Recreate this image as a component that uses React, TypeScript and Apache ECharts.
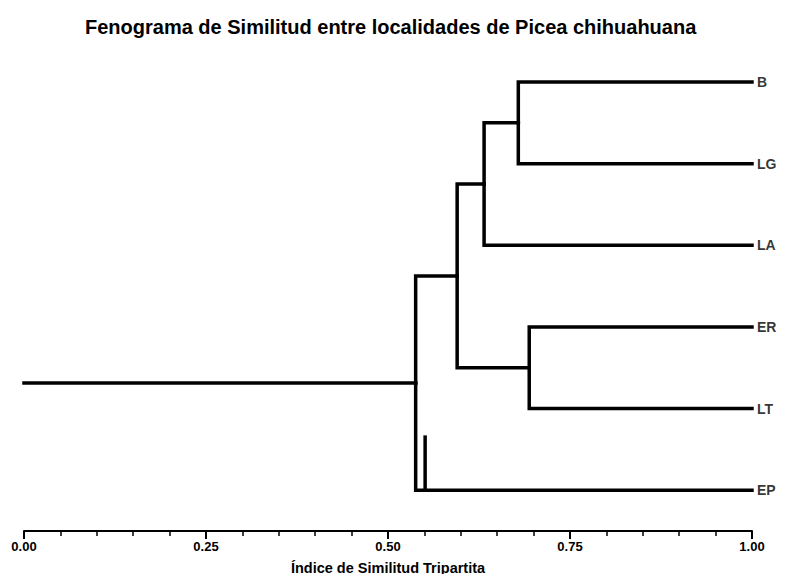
import React, { useEffect, useRef } from "react";
import * as echarts from "echarts";

const title = "Fenograma de Similitud entre localidades de Picea chihuahuana";
const axisName = "Índice de Similitud Tripartita";
const leaves = ["B", "LG", "LA", "ER", "LT", "EP"];
// node indices: 0-5 leaves, 6.. merges in order
const mergeChildren: [number, number][] = [
  [0, 1],
  [6, 2],
  [3, 4],
  [7, 8],
  [9, 5],
];
const mergeSimilarity = [0.679, 0.632, 0.694, 0.595, 0.538];
// small stray vertical stroke near EP in the original figure
const strayStroke = [0.551, 4.35, 0.551, 5];

function buildSegments() {
  const nx: number[] = leaves.map(() => 1);
  const ny: number[] = leaves.map((_, i) => i);
  const segs: number[][] = [];
  mergeChildren.forEach(([a, b], k) => {
    const h = mergeSimilarity[k];
    const py = (ny[a] + ny[b]) / 2;
    [a, b].forEach((c) => {
      segs.push([nx[c], ny[c], h, ny[c], h, py]);
    });
    nx.push(h);
    ny.push(py);
  });
  const r = nx.length - 1;
  segs.push([nx[r], ny[r], 0, ny[r], 0, ny[r]]);
  segs.push([strayStroke[0], strayStroke[1], strayStroke[2], strayStroke[3], strayStroke[2], strayStroke[3]]);
  return segs;
}

export default function App() {
  const ref = useRef<HTMLDivElement>(null);
  useEffect(() => {
    const chart = echarts.init(ref.current!, null, { renderer: "svg" });
    const segs = buildSegments();
    const font = "Liberation Sans, Arial, sans-serif";
    chart.setOption({
      animation: false,
      backgroundColor: "#fff",
      title: {
        text: title,
        left: 80,
        top: 12,
        textStyle: { fontSize: 20, fontWeight: "bold", fontFamily: font, color: "#000" },
      },
      grid: { left: 24, right: 40, top: 82, bottom: 43, outerBoundsMode: "none", containLabel: false },
      xAxis: {
        type: "value",
        min: 0,
        max: 1,
        interval: 0.25,
        position: "bottom",
        name: axisName,
        nameLocation: "middle",
        nameGap: 29,
        nameTextStyle: { fontSize: 14.5, fontWeight: "bold", fontFamily: font, color: "#000" },
        axisLine: { onZero: false, lineStyle: { color: "#000", width: 2 } },
        axisTick: { show: true, inside: false, length: 8, lineStyle: { color: "#000", width: 2 } },
        minorTick: { show: true, splitNumber: 5, length: 5, lineStyle: { color: "#000", width: 1.5 } },
        splitLine: { show: false },
        minorSplitLine: { show: false },
        axisLabel: {
          margin: 9,
          fontSize: 13,
          fontWeight: "bold",
          fontFamily: font,
          color: "#000",
          formatter: (v: number) => v.toFixed(2),
        },
      },
      yAxis: { type: "value", min: 0, max: 5.5, inverse: true, show: false },
      series: [
        {
          type: "custom",
          clip: false,
          data: segs,
          renderItem: (_p: any, api: any) => {
            const pts = [0, 2, 4].map((i) => api.coord([api.value(i), api.value(i + 1)]));
            return {
              type: "polyline",
              shape: { points: pts },
              style: { stroke: "#000", lineWidth: 3.5, fill: "none", lineJoin: "miter", lineCap: "square" },
            };
          },
        },
        {
          type: "scatter",
          symbolSize: 0,
          data: leaves.map((n, i) => [1, i, n]),
          label: {
            show: true,
            position: "right",
            distance: 5,
            formatter: (p: any) => p.data[2],
            fontSize: 14,
            fontWeight: "bold",
            fontFamily: font,
            color: "#000",
          },
        },
      ],
    });
    return () => chart.dispose();
  }, []);
  return <div ref={ref} style={{ position: "fixed", left: 0, top: 0, width: 792, height: 574 }} />;
}
